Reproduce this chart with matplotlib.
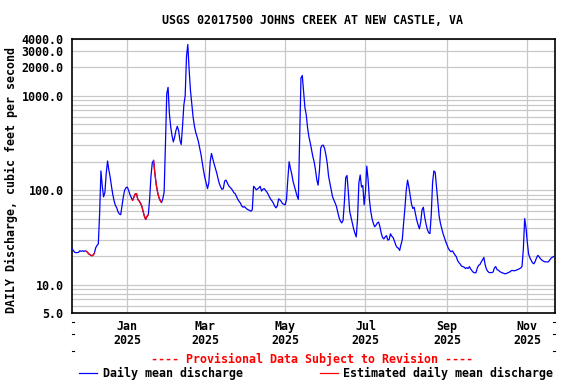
import numpy as np
import pandas as pd
import matplotlib
matplotlib.use('Agg')
import matplotlib.pyplot as plt
from matplotlib.lines import Line2D

# daily mean discharge, cfs, starting 2024-11-20
nov24 = [24, 23, 22, 21.8, 21.8, 22, 22.8, 22.5, 22.8, 22.5, 22.8]
dec24 = [22.5, 21.8, 21, 20.6, 20.2, 20.5, 21.5, 24.5, 26, 27, 57, 160, 110, 85, 95, 150,
         204, 164, 138, 110, 90, 77, 69, 65, 59, 56, 55, 68, 85, 100, 106]
jan25 = [108, 100, 90, 84, 78, 84, 91, 92, 80, 77, 73, 68, 60, 53, 49, 53, 55, 81, 140, 195,
         207, 150, 115, 96, 84, 78, 74, 81, 95, 300, 1050]
feb25 = [1230, 650, 470, 380, 325, 365, 430, 475, 430, 340, 305, 480, 800, 1000, 2600, 3500,
         1900, 1150, 820, 600, 480, 410, 370, 330, 280, 240, 195, 160]
mar25 = [135, 118, 104, 120, 200, 245, 215, 190, 170, 152, 132, 117, 108, 102, 104, 125, 128,
         120, 112, 108, 104, 100, 94, 92, 86, 80, 76, 73, 68, 66, 67]
apr25 = [65, 63, 62, 61, 60, 62, 110, 106, 101, 103, 106, 110, 98, 102, 104, 100, 96, 91, 85,
         80, 77, 73, 68, 65, 68, 81, 79, 76, 72, 71]
may25 = [70, 80, 130, 200, 170, 148, 124, 110, 98, 87, 80, 350, 1550, 1640, 1100, 750, 630,
         460, 370, 320, 270, 228, 200, 165, 130, 113, 160, 280, 298, 300, 275]
jun25 = [235, 190, 140, 118, 100, 85, 79, 73, 67, 58, 51, 47, 45, 48, 75, 136, 143, 95, 60,
         52, 45, 39, 35, 32, 50, 120, 145, 108, 112, 70]
jul25 = [95, 180, 130, 80, 60, 50, 44.5, 41, 42.5, 45, 46, 41, 35, 31.5, 30.5, 32, 33, 29.6,
         30, 34.5, 32.6, 31.5, 29, 26.3, 24.8, 24.3, 23, 26.5, 30, 45, 65]
aug25 = [100, 128, 108, 88, 71, 64, 66, 56.6, 48, 43, 39, 46, 62, 66, 52, 44, 38.5, 35.5,
         34.7, 55, 120, 160, 155, 108, 75, 53, 44.5, 39, 34.5, 31.5, 28.5]
sep25 = [26.3, 24.2, 23, 22.3, 22.8, 21.8, 20.6, 19.8, 18, 17.1, 16.5, 15.7, 15.5, 15.3, 14.8,
         15.1, 14.8, 15.5, 14.6, 14, 13.5, 13.3, 13.4, 15, 16, 16.3, 17.4, 18.3, 19.4, 16.1]
oct25 = [14.5, 13.8, 13.4, 13.4, 13.4, 13.6, 15, 15.5, 14.4, 14.2, 13.8, 13.5, 13.3, 13.2, 13.0,
         13.1, 13.3, 13.5, 13.7, 14.1, 14.1, 14.0, 14.1, 14.3, 14.5, 14.7, 15, 15.6, 24, 50, 40]
nov25 = [28, 21, 19.2, 18, 17, 16.6, 17.6, 19.2, 20.4, 19.7, 18.8, 18.2, 17.8, 17.5, 17.4,
         17.4, 17.4, 18.2, 19, 19.5, 19.8]

# estimated periods (red)
estimated = [('2024-12-01', '2024-12-07'), ('2025-01-05', '2025-01-17'),
             ('2025-01-21', '2025-01-27')]

ytick_vals = [5, 10, 100, 1000, 2000, 3000, 4000]
xtick_dates = ['2025-01-01', '2025-03-01', '2025-05-01', '2025-07-01', '2025-09-01', '2025-11-01']
xtick_labels = ['Jan\n2025', 'Mar\n2025', 'May\n2025', 'Jul\n2025', 'Sep\n2025', 'Nov\n2025']

flow = np.array(nov24 + dec24 + jan25 + feb25 + mar25 + apr25 + may25 + jun25 + jul25 +
                aug25 + sep25 + oct25 + nov25)
dates = pd.date_range('2024-11-20', periods=len(flow), freq='D')

FONT = 'DejaVu Sans Mono'
FS = 8.4
W, H = 576, 384

fig = plt.figure(figsize=(5.76, 3.84), dpi=100)
ax = fig.add_axes([72 / W, 1 - 313 / H, (555 - 72) / W, (313 - 39) / H])

ax.plot(dates, flow, color='#0000ff', lw=0.9, zorder=3)
for a, b in estimated:
    m = (dates >= pd.Timestamp(a)) & (dates <= pd.Timestamp(b))
    ax.plot(dates[m], flow[m], color='#ff0000', lw=0.9, zorder=4)

ax.set_yscale('log')
ax.set_ylim(5, 4000)
ax.set_xlim(pd.Timestamp('2024-11-20'), pd.Timestamp('2025-11-22 01:00'))

minor = [v * d for d in (1, 10, 100, 1000) for v in range(2, 10)
         if 5 < v * d < 4000 and v * d not in ytick_vals]
ax.set_yticks(ytick_vals)
ax.set_yticks(minor, minor=True)
ax.set_yticklabels(['%.1f' % v for v in ytick_vals], fontfamily=FONT,
                   fontweight='bold', fontsize=FS)
ax.set_yticklabels([], minor=True)
ax.set_xticks(pd.to_datetime(xtick_dates))
ax.set_xticklabels(xtick_labels, fontfamily=FONT, fontweight='bold', fontsize=FS,
                   linespacing=1.1)
ax.tick_params(axis='both', which='both', length=0)
ax.tick_params(axis='y', pad=6)
ax.tick_params(axis='x', pad=5)
ax.grid(True, which='both', color='#c8c8c8', lw=0.9)
ax.set_axisbelow(True)
for s in ax.spines.values():
    s.set_linewidth(1.2)
    s.set_color('black')

fig.text(313 / W, 1 - 20 / H, 'USGS 02017500 JOHNS CREEK AT NEW CASTLE, VA',
         ha='center', va='center', fontfamily=FONT, fontweight='bold', fontsize=FS)
fig.text(11.5 / W, 1 - 180 / H, 'DAILY Discharge, cubic feet per second', rotation=90,
         ha='center', va='center', fontfamily=FONT, fontweight='bold', fontsize=FS)
fig.text(312 / W, 1 - 359 / H, '---- Provisional Data Subject to Revision ----',
         ha='center', va='center', fontfamily=FONT, fontweight='bold', fontsize=FS,
         color='#ff0000')

# legend
fig.add_artist(Line2D([79 / W, 97 / W], [1 - 372.5 / H] * 2, color='#0000ff', lw=0.9))
fig.text(103 / W, 1 - 373 / H, 'Daily mean discharge', ha='left', va='center',
         fontfamily=FONT, fontweight='bold', fontsize=FS)
fig.add_artist(Line2D([320 / W, 337.5 / W], [1 - 372.5 / H] * 2, color='#ff0000', lw=0.9))
fig.text(343 / W, 1 - 373 / H, 'Estimated daily mean discharge', ha='left', va='center',
         fontfamily=FONT, fontweight='bold', fontsize=FS)

# small marks at the edges of the label rows
for yy in (322, 334, 351):
    fig.add_artist(Line2D([72 / W, 74 / W], [1 - yy / H] * 2, color='black', lw=0.8))
    fig.add_artist(Line2D([553 / W, 555 / W], [1 - yy / H] * 2, color='black', lw=0.8))

fig.savefig('out.png', dpi=100)
